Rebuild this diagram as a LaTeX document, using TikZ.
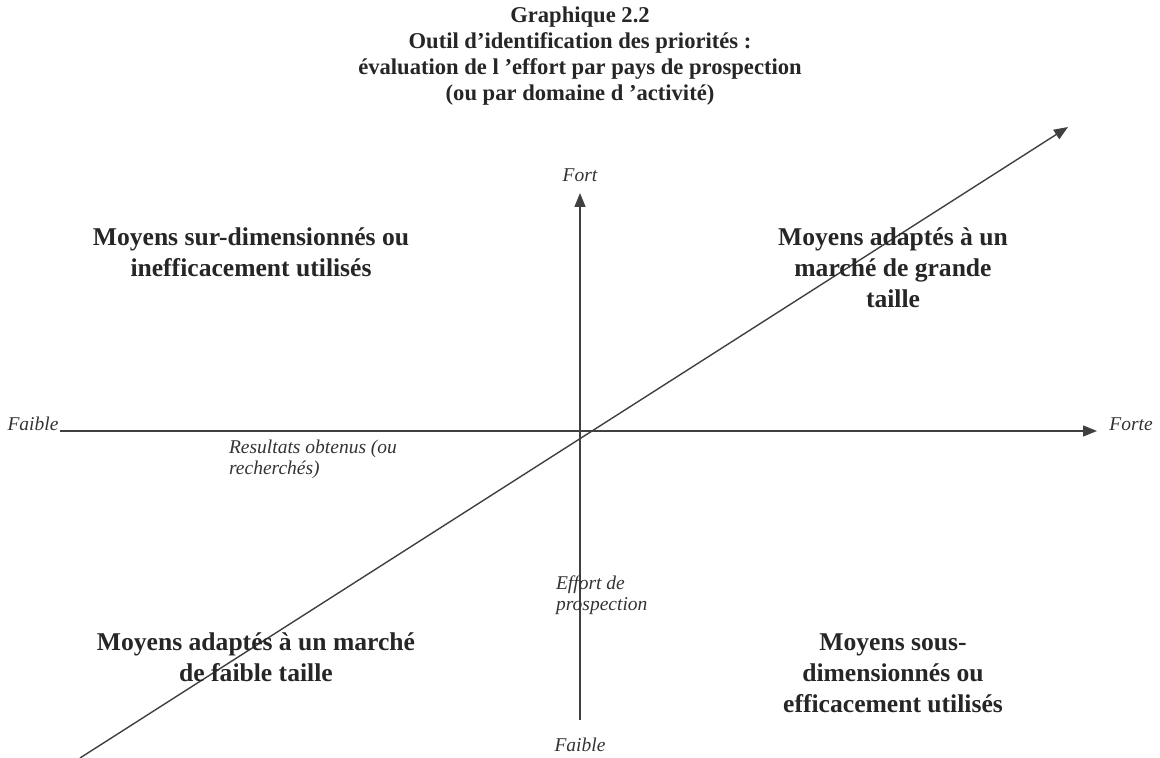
\documentclass[tikz,border=0pt]{standalone}
\usepackage{fontspec}
\setmainfont{Liberation Serif}
\usetikzlibrary{arrows.meta}

\begin{document}
\begin{tikzpicture}[x=0.5pt, y=-0.5pt,
    axe/.style={draw=black!75, line width=0.7pt, -{Triangle[length=7pt, width=5.5pt]}},
    titre/.style={font=\fontsize{11.3}{13}\selectfont\bfseries, align=center, text=black!85},
    zone/.style={font=\fontsize{12.8}{15.5}\selectfont\bfseries, align=center, text=black!85},
    etiq/.style={font=\fontsize{9.75}{10.5}\selectfont\itshape, text=black!80}]
    \useasboundingbox (0,0) rectangle (1160,758);

    \node[titre] (titre) at (580, 56) {Graphique 2.2\\Outil d’identification des priorités :\\évaluation de l ’effort par pays de prospection\\(ou par domaine d ’activité)};

    \coordinate (hg) at (60, 431);
    \coordinate (hd) at (1097, 431);
    \coordinate (vb) at (580, 720);
    \coordinate (vh) at (580, 193);
    \coordinate (db) at (80, 758);
    \coordinate (dh) at (1068, 127);

    \draw[axe] (hg) -- (hd);
    \draw[axe] (vb) -- (vh);
    \draw[axe] (db) -- (dh);

    \node[etiq] (faible1) at (33, 424) {Faible};
    \node[etiq] (forte) at (1131, 424) {Forte};
    \node[etiq] (fort) at (580, 175) {Fort};
    \node[etiq] (faible2) at (580, 745) {Faible};
    \node[etiq, anchor=west, align=left] (resultats) at (222, 459) {Resultats obtenus (ou\\recherchés)};
    \node[etiq, anchor=west, align=left] (effort) at (549, 595) {Effort de\\prospection};

    \node[zone] (q1) at (251, 252) {Moyens sur-dimensionnés ou\\inefficacement utilisés};
    \node[zone] (q2) at (893, 268) {Moyens adaptés à un\\marché de grande\\taille};
    \node[zone] (q3) at (256, 657) {Moyens adaptés à un marché\\de faible taille};
    \node[zone] (q4) at (893, 673) {Moyens sous-\\dimensionnés ou\\efficacement utilisés};
\end{tikzpicture}
\end{document}
